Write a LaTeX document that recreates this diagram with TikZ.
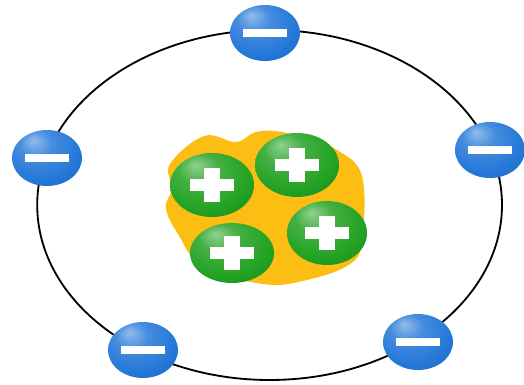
\documentclass[tikz,border=0pt]{standalone}
\usetikzlibrary{shapes.geometric}

\definecolor{eblue}{RGB}{36,120,216}
\definecolor{pgreen}{RGB}{34,162,34}
\definecolor{nucyellow}{RGB}{253,190,20}

% glossy balls, light spot up and to the left
\pgfdeclareradialshading{electronball}{\pgfpoint{-10bp}{16bp}}{%
  color(0bp)=(eblue!50!white); color(12bp)=(eblue!85!white);
  color(28bp)=(eblue); color(44bp)=(eblue!85!black); color(60bp)=(eblue!65!black)}
\pgfdeclareradialshading{protonball}{\pgfpoint{-10bp}{16bp}}{%
  color(0bp)=(pgreen!50!white); color(12bp)=(pgreen!85!white);
  color(28bp)=(pgreen); color(44bp)=(pgreen!80!black); color(60bp)=(pgreen!60!black)}

\tikzset{
  electron/.style={ellipse, minimum width=1.75cm, minimum height=1.4cm,
    inner sep=0pt, shade, shading=electronball,
    path picture={\fill[white] ([xshift=-0.54cm, yshift=-0.09cm]path picture bounding box.center)
      rectangle ++(1.08cm,0.18cm);}},
  proton/.style={ellipse, minimum width=2.1cm, minimum height=1.6cm,
    inner sep=0pt, shade, shading=protonball,
    path picture={
      \fill[white] ([xshift=-0.56cm, yshift=-0.16cm]path picture bounding box.center)
        rectangle ++(1.12cm,0.32cm);
      \fill[white] ([xshift=-0.19cm, yshift=-0.43cm]path picture bounding box.center)
        rectangle ++(0.38cm,0.86cm);}},
  orbit/.style={draw=black, line width=1.3pt}
}

\begin{document}
\begin{tikzpicture}
        \useasboundingbox (0,0) rectangle (13.1,9.6);

        % Orbit
        \draw[orbit] (6.74,4.475) ellipse (5.81cm and 4.375cm);

        % Nucleus
        \fill[nucyellow] plot[smooth cycle, tension=0.65] coordinates {
            (5.1,6.2) (5.9,6.05) (6.4,6.3) (7.05,6.3) (7.8,6.05) (8.425,5.85)
            (9.05,5.2) (9.05,3.6) (8.75,3.0) (7.675,2.6) (6.575,2.5)
            (5.075,2.95) (4.45,3.75) (4.15,4.4) (4.3,4.9) (4.25,5.5)};

        % Protons
        \node (p1) [proton] at (5.3,4.975) {};
        \node (p2) [proton] at (7.425,5.475) {};
        \node (p3) [proton, minimum width=2.0cm] at (8.175,3.775) {};
        \node (p4) [proton, minimum height=1.5cm] at (5.8,3.275) {};

        % Electrons
        \node (e1) [electron] at (6.625,8.775) {};
        \node (e2) [electron] at (1.175,5.65) {};
        \node (e3) [electron] at (12.25,5.85) {};
        \node (e4) [electron] at (3.575,0.85) {};
        \node (e5) [electron] at (10.45,1.05) {};
\end{tikzpicture}
\end{document}
